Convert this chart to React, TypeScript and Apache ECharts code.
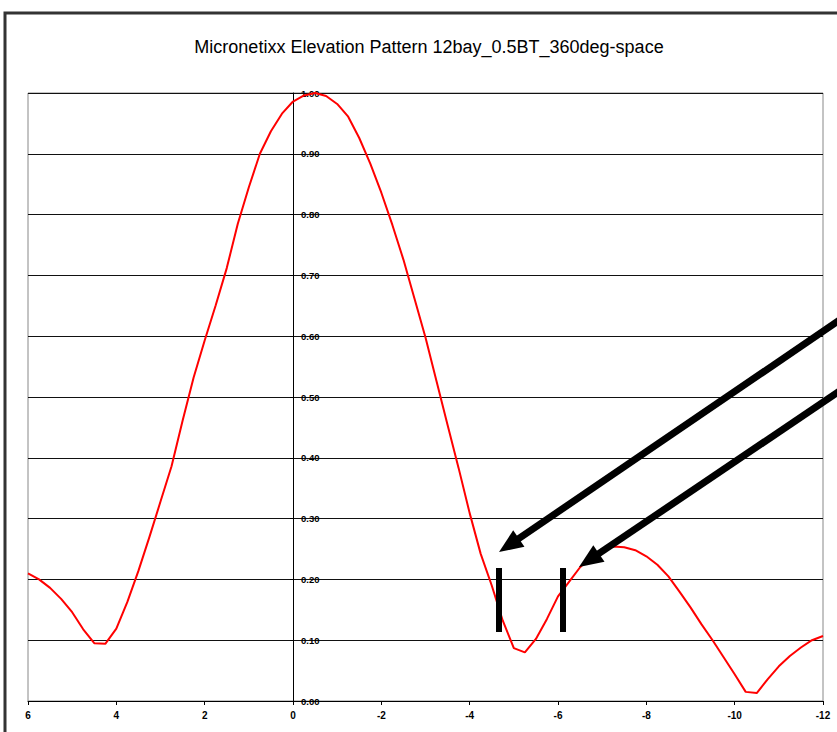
import React, { useEffect, useRef } from "react";
import * as echarts from "echarts";

const titleText = "Micronetixx Elevation Pattern 12bay_0.5BT_360deg-space";

const angles = [
  6, 5.75, 5.5, 5.25, 5, 4.75, 4.5, 4.25, 4, 3.75, 3.5, 3.25, 3, 2.75, 2.5, 2.25,
  2, 1.75, 1.5, 1.25, 1, 0.75, 0.5, 0.25, 0, -0.25, -0.5, -0.75, -1, -1.25, -1.5,
  -1.75, -2, -2.25, -2.5, -2.75, -3, -3.25, -3.5, -3.75, -4, -4.25, -4.5, -4.75,
  -5, -5.25, -5.5, -5.75, -6, -6.25, -6.5, -6.75, -7, -7.25, -7.5, -7.75, -8,
  -8.25, -8.5, -8.75, -9, -9.25, -9.5, -9.75, -10, -10.25, -10.5, -10.75, -11,
  -11.25, -11.5, -11.75, -12,
];

const gains = [
  0.21, 0.2, 0.186, 0.168, 0.146, 0.118, 0.095, 0.094, 0.119, 0.163, 0.214, 0.27,
  0.328, 0.386, 0.461, 0.532, 0.593, 0.651, 0.712, 0.785, 0.845, 0.9, 0.937,
  0.966, 0.986, 0.996, 1.0, 0.995, 0.982, 0.961, 0.926, 0.884, 0.836, 0.783,
  0.726, 0.662, 0.598, 0.526, 0.454, 0.383, 0.309, 0.242, 0.19, 0.132, 0.087,
  0.08, 0.102, 0.135, 0.172, 0.196, 0.22, 0.238, 0.249, 0.254, 0.253, 0.248,
  0.238, 0.224, 0.205, 0.18, 0.154, 0.126, 0.1, 0.072, 0.044, 0.015, 0.013,
  0.036, 0.057, 0.074, 0.088, 0.1, 0.107,
];

const FONT = "'Liberation Sans', Arial, sans-serif";
const GRID_LEFT = 28;

function arrow(x0: number, y0: number, tx: number, ty: number) {
  const dx = tx - x0;
  const dy = ty - y0;
  const len = Math.sqrt(dx * dx + dy * dy);
  const ux = dx / len;
  const uy = dy / len;
  const headLen = 24;
  const halfW = 10;
  const bx = tx - ux * headLen;
  const by = ty - uy * headLen;
  const px = -uy;
  const py = ux;
  return [
    {
      type: "line",
      z: 100,
      shape: { x1: x0, y1: y0, x2: bx + ux * 2, y2: by + uy * 2 },
      style: { stroke: "#000", lineWidth: 7 },
    },
    {
      type: "polygon",
      z: 100,
      shape: {
        points: [
          [tx, ty],
          [bx + px * halfW, by + py * halfW],
          [bx - px * halfW, by - py * halfW],
        ],
      },
      style: { fill: "#000" },
    },
  ];
}

export default function App() {
  const ref = useRef<HTMLDivElement>(null);

  useEffect(() => {
    document.body.style.margin = "0";
    if (!ref.current) return;
    const chart = echarts.init(ref.current, null, { renderer: "svg" });
    const data = angles.map((a, i) => [a, gains[i]]);
    chart.setOption({
      animation: false,
      backgroundColor: "#fff",
      title: {
        text: titleText,
        left: 424,
        top: 33,
        textAlign: "center",
        textStyle: { fontFamily: FONT, fontSize: 18, fontWeight: "normal", color: "#000" },
      },
      grid: {
        left: GRID_LEFT,
        right: 14,
        top: 93,
        bottom: 31,
        show: true,
        borderColor: "#888",
        borderWidth: 1,
        backgroundColor: "#fff",
      },
      xAxis: {
        type: "value",
        min: -12,
        max: 6,
        interval: 2,
        inverse: true,
        axisLine: { show: true, lineStyle: { color: "#000", width: 1 } },
        axisTick: { show: true, length: 4, lineStyle: { color: "#000" } },
        axisLabel: {
          fontFamily: FONT,
          fontSize: 10,
          fontWeight: "bold",
          color: "#000",
          margin: 9,
          formatter: (v: number) => String(v),
        },
        splitLine: { show: false },
      },
      yAxis: {
        type: "value",
        min: 0,
        max: 1,
        interval: 0.1,
        position: "left",
        offset: 0,
        axisLine: { show: true, onZero: false, lineStyle: { color: "#000", width: 1 } },
        axisTick: { show: true, length: 3, lineStyle: { color: "#000" } },
        axisLabel: {
          inside: true,
          margin: 8,
          fontFamily: FONT,
          fontSize: 9.5,
          fontWeight: "bold",
          color: "#000",
          formatter: (v: number) => v.toFixed(2),
        },
        splitLine: { show: true, lineStyle: { color: "#111", width: 1 } },
      },
      series: [
        {
          type: "line",
          data,
          showSymbol: false,
          symbol: "none",
          lineStyle: { color: "#ff0000", width: 2 },
          z: 5,
        },
      ],
      graphic: [
        {
          type: "rect",
          z: 100,
          shape: { x: 5, y: 13, width: 1000, height: 1000 },
          style: { fill: "none", stroke: "#333", lineWidth: 3 },
        },
        ...arrow(850, 313, 499, 552),
        ...arrow(850, 384, 579, 567),
        {
          type: "rect",
          z: 100,
          shape: { x: 496, y: 568, width: 6, height: 64 },
          style: { fill: "#000" },
        },
        {
          type: "rect",
          z: 100,
          shape: { x: 560, y: 568, width: 6, height: 64 },
          style: { fill: "#000" },
        },
      ],
    });
    // place the vertical axis at angle 0
    const zeroX = chart.convertToPixel({ xAxisIndex: 0 }, 0) as number;
    chart.setOption({ yAxis: { offset: -(zeroX - GRID_LEFT) } });
    return () => chart.dispose();
  }, []);

  return <div ref={ref} style={{ width: 837, height: 732 }} />;
}
